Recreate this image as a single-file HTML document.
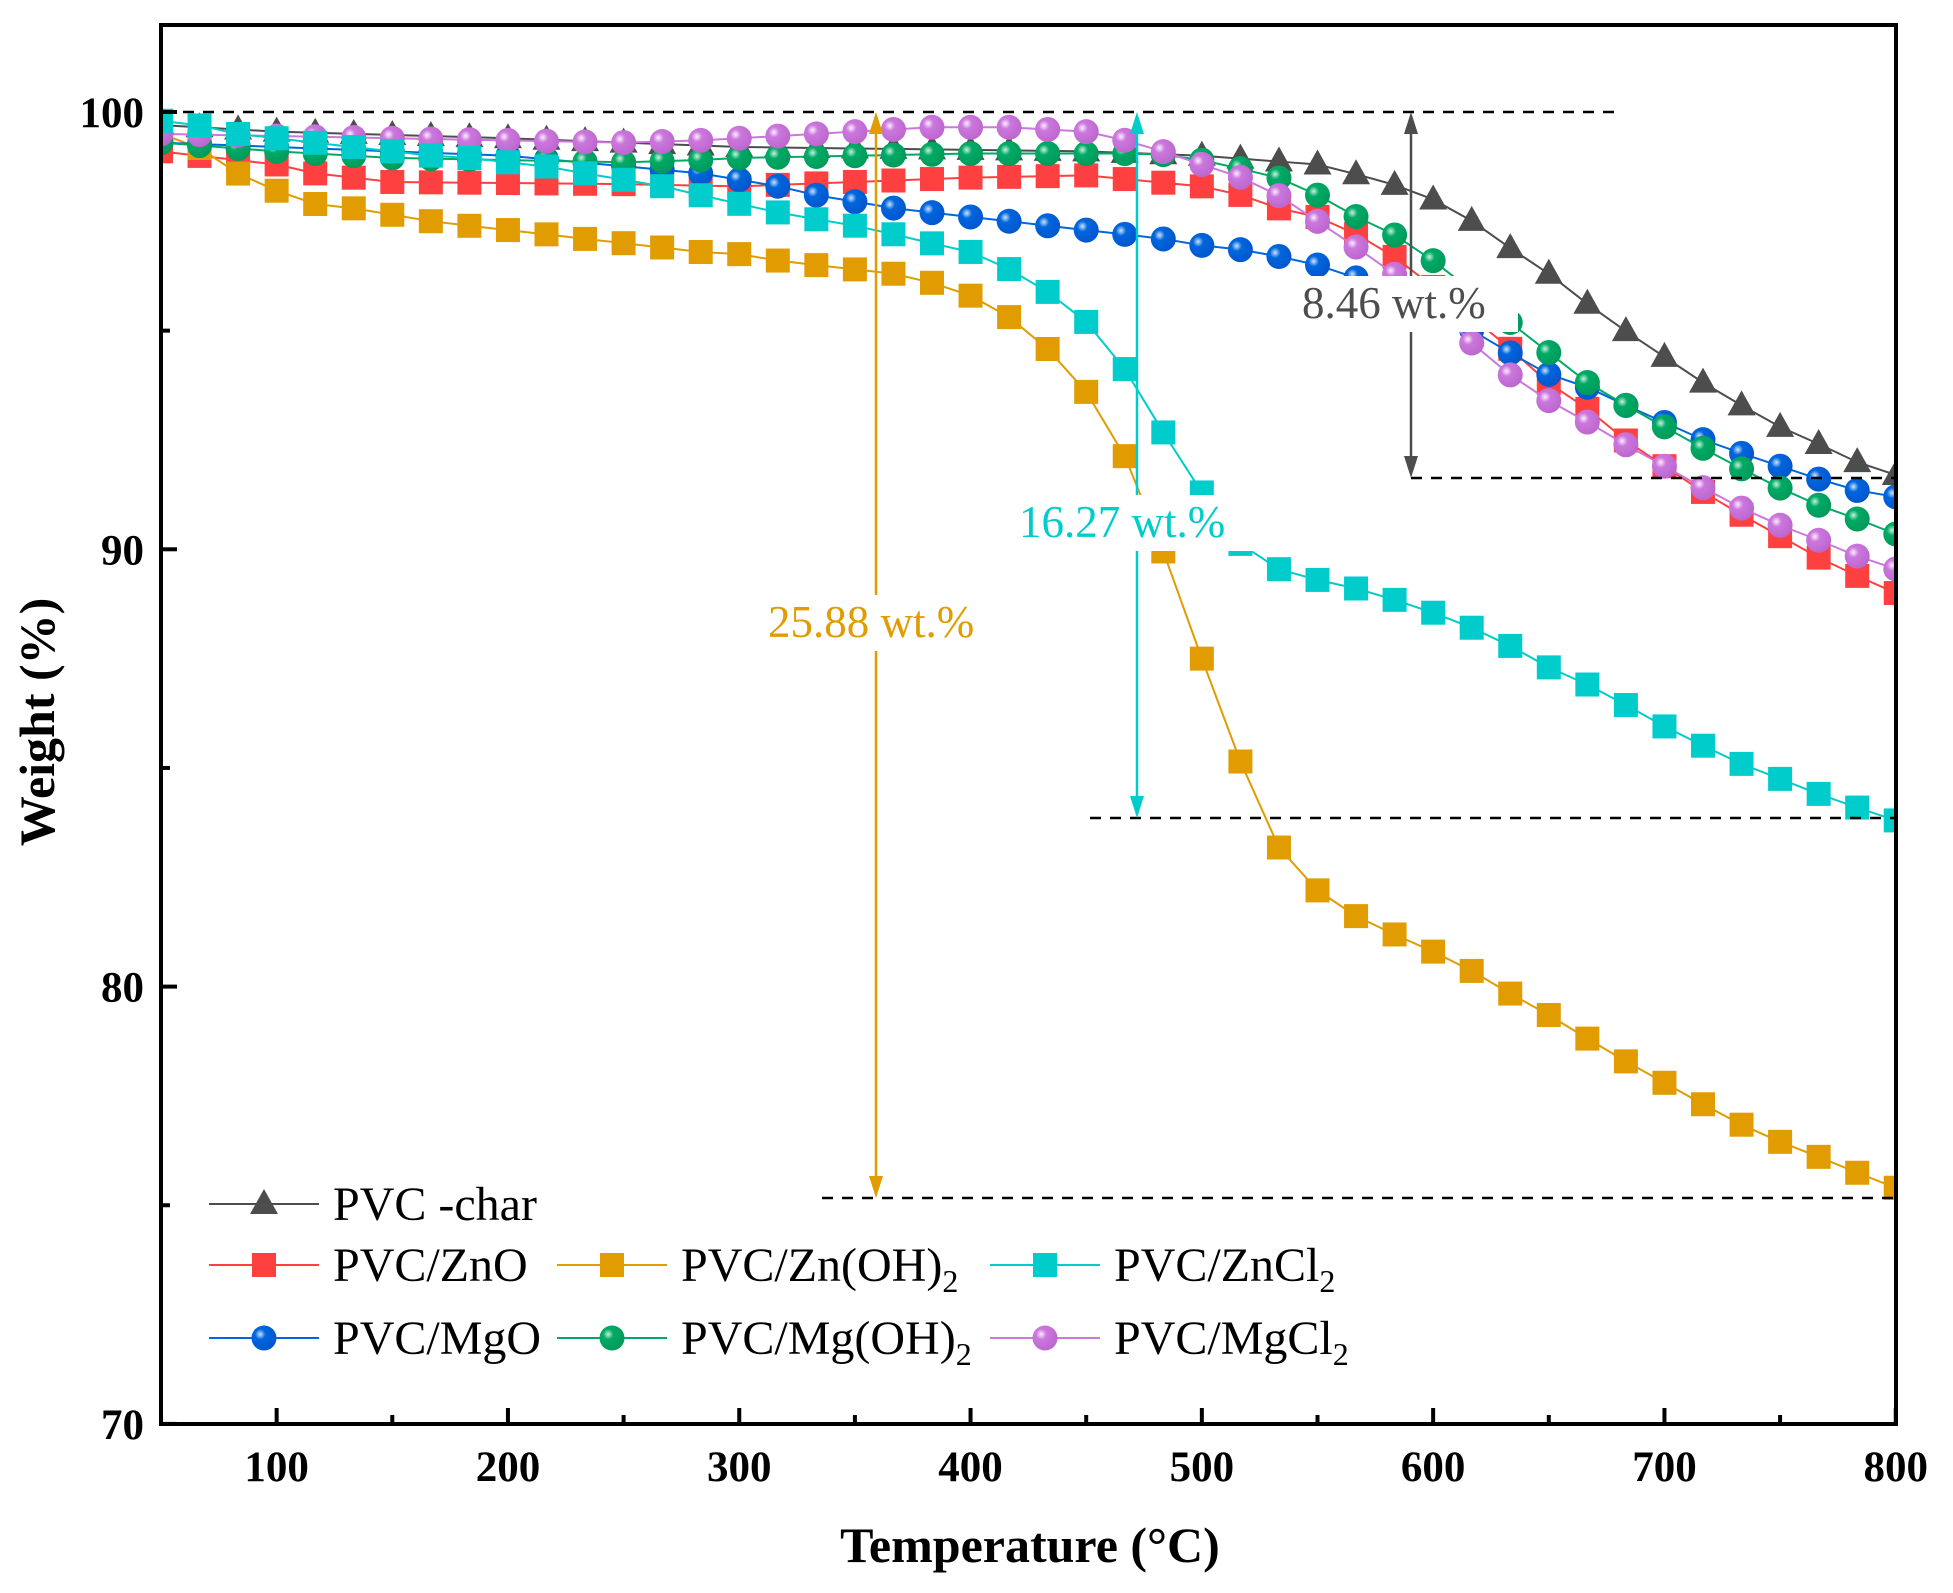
<!DOCTYPE html>
<html><head><meta charset="utf-8"><style>
html,body{margin:0;padding:0;background:#fff}
svg{display:block}
text{font-family:"Liberation Serif",serif}
</style></head><body>
<svg id="s" width="1953" height="1593" viewBox="0 0 1953 1593" xmlns="http://www.w3.org/2000/svg">
<defs>
<radialGradient id="gb" cx="0.35" cy="0.35" r="0.7"><stop offset="0" stop-color="#cfe3ff"/><stop offset="0.3" stop-color="#0066dd"/><stop offset="1" stop-color="#0055cc"/></radialGradient>
<radialGradient id="gg" cx="0.35" cy="0.35" r="0.7"><stop offset="0" stop-color="#c8f0dc"/><stop offset="0.3" stop-color="#00aa66"/><stop offset="1" stop-color="#009958"/></radialGradient>
<radialGradient id="gp" cx="0.35" cy="0.35" r="0.7"><stop offset="0" stop-color="#fbeeff"/><stop offset="0.3" stop-color="#cc77dd"/><stop offset="1" stop-color="#bb66cc"/></radialGradient>
</defs>
<g id="plot"></g>
<g id="ann"></g>
</svg>
<script>
const NS="http://www.w3.org/2000/svg";
const X=t=>161+(t-50)*2.313, Y=w=>112+(100-w)*43.73;
function el(p,tag,a,txt){const e=document.createElementNS(NS,tag);for(const k in a)e.setAttribute(k,a[k]);if(txt!==undefined)e.textContent=txt;p.appendChild(e);return e;}
const P=document.getElementById('plot'),A=document.getElementById('ann'),S=document.getElementById('s');
const data={
char:[[50,99.7],[100,99.55],[200,99.4],[300,99.2],[450,99.1],[500,99.0],[550,98.8],[580,98.4],[600,98.0],[617,97.5],[633,96.9],[650,96.3],[667,95.6],[683,95.0],[700,94.4],[717,93.8],[733,93.3],[750,92.8],[767,92.4],[783,92.0],[800,91.7]],
zno:[[50,99.1],[66,99.0],[83,98.9],[100,98.8],[116,98.6],[150,98.4],[250,98.35],[300,98.3],[350,98.4],[400,98.5],[450,98.55],[480,98.4],[500,98.3],[517,98.1],[533,97.8],[550,97.6],[567,97.2],[583,96.7],[600,96.0],[617,95.3],[633,94.6],[650,93.8],[667,93.2],[683,92.5],[700,91.9],[717,91.3],[733,90.8],[750,90.3],[767,89.8],[783,89.4],[800,89.0]],
znoh:[[50,99.5],[66,99.2],[83,98.6],[100,98.2],[116,97.9],[133,97.8],[150,97.65],[167,97.5],[183,97.4],[200,97.3],[217,97.2],[233,97.1],[250,97.0],[267,96.9],[283,96.8],[300,96.75],[317,96.6],[333,96.5],[350,96.4],[367,96.3],[383,96.1],[400,95.8],[417,95.3],[433,94.6],[450,93.6],[467,92.1],[483,90.0],[500,87.5],[517,85.1],[533,83.2],[550,82.2],[567,81.6],[583,81.2],[600,80.8],[617,80.35],[633,79.85],[650,79.35],[667,78.8],[683,78.3],[700,77.8],[717,77.3],[733,76.85],[750,76.45],[767,76.1],[783,75.75],[800,75.4]],
zncl:[[50,99.8],[66,99.7],[83,99.5],[100,99.4],[116,99.3],[133,99.2],[150,99.1],[167,99.0],[183,98.95],[200,98.85],[217,98.75],[233,98.6],[250,98.45],[267,98.3],[283,98.1],[300,97.9],[317,97.7],[333,97.55],[350,97.4],[367,97.2],[383,97.0],[400,96.8],[417,96.4],[433,95.9],[450,95.2],[467,94.1],[483,92.7],[500,91.3],[517,90.1],[533,89.55],[550,89.3],[567,89.1],[583,88.85],[600,88.55],[617,88.2],[633,87.8],[650,87.3],[667,86.9],[683,86.45],[700,85.95],[717,85.5],[733,85.1],[750,84.75],[767,84.4],[783,84.1],[800,83.8]],
mgo:[[50,99.3],[100,99.2],[200,99.0],[283,98.6],[317,98.3],[333,98.1],[350,97.95],[367,97.8],[383,97.7],[400,97.6],[417,97.5],[433,97.4],[450,97.3],[467,97.2],[483,97.1],[500,96.95],[517,96.85],[533,96.7],[550,96.5],[567,96.2],[583,95.9],[600,95.5],[617,95.0],[633,94.5],[650,94.0],[667,93.7],[683,93.3],[700,92.9],[717,92.5],[733,92.2],[750,91.9],[767,91.6],[783,91.35],[800,91.2]],
mgoh:[[50,99.3],[100,99.1],[150,98.95],[200,98.9],[250,98.85],[283,98.9],[300,98.95],[350,99.0],[400,99.05],[480,99.05],[500,98.9],[517,98.7],[533,98.5],[550,98.1],[567,97.6],[583,97.2],[600,96.6],[617,95.9],[633,95.2],[650,94.5],[667,93.8],[683,93.3],[700,92.8],[717,92.3],[733,91.85],[750,91.4],[767,91.0],[783,90.7],[800,90.35]],
mgcl:[[50,99.5],[100,99.45],[200,99.35],[250,99.3],[283,99.35],[317,99.45],[350,99.55],[383,99.65],[417,99.65],[450,99.55],[467,99.35],[483,99.1],[500,98.8],[517,98.5],[533,98.1],[550,97.5],[567,96.9],[583,96.3],[600,95.6],[617,94.7],[633,94.0],[650,93.4],[667,92.9],[683,92.4],[700,91.9],[717,91.4],[733,90.95],[750,90.55],[767,90.2],[783,89.85],[800,89.55]]};
function interp(d,t){for(let i=0;i<d.length-1;i++){if(t<=d[i+1][0]){const f=(t-d[i][0])/(d[i+1][0]-d[i][0]);return d[i][1]+f*(d[i+1][1]-d[i][1]);}}return d[d.length-1][1];}
const ser=[['char','#4d4d4d','tri'],['zno','#ff4040','sq'],['znoh','#e09c00','sq'],['mgo','#0066dd','ci','url(#gb)'],['mgoh','#00aa66','ci','url(#gg)'],['mgcl','#cc77dd','ci','url(#gp)'],['zncl','#00cccc','sq']];
function marker(p,type,x,y,c,f){
 if(type=='sq')el(p,'rect',{x:x-12,y:y-12,width:24,height:24,fill:c});
 else if(type=='ci')el(p,'circle',{cx:x,cy:y,r:12.5,fill:f});
 else el(p,'polygon',{points:`${x},${y-15} ${x+14},${y+10} ${x-14},${y+10}`,fill:c});
}
const temps=[];for(let k=0;k<=45;k++)temps.push(50+k*750/45);
ser.forEach(([k,c,t,f])=>{
 const g=el(P,'g',{});
 const pts=temps.map(T=>[X(T),Y(interp(data[k],T))]);
 el(g,'polyline',{points:pts.map(p=>p.join(',')).join(' '),fill:'none',stroke:c,'stroke-width':2});
 pts.forEach(p=>marker(g,t,p[0],p[1],c,f));
});
el(S,'rect',{x:0,y:0,width:159,height:1593,fill:'#fff'});
el(S,'rect',{x:1898,y:0,width:55,height:1593,fill:'#fff'});
function dash(x1,x2,y){el(A,'line',{x1,x2,y1:y,y2:y,stroke:'#000','stroke-width':2.5,'stroke-dasharray':'11,9'});}
dash(163,1616,112);dash(1411,1896,478);dash(1090,1896,818);dash(822,1896,1198);
function arrow(x,y1,y2,c){el(A,'line',{x1:x,x2:x,y1:y1+18,y2:y2-18,stroke:c,'stroke-width':2.5});
 el(A,'polygon',{points:`${x},${y1} ${x+7},${y1+22} ${x-7},${y1+22}`,fill:c});
 el(A,'polygon',{points:`${x},${y2} ${x+7},${y2-22} ${x-7},${y2-22}`,fill:c});}
arrow(1411,112,478,'#4d4d4d');arrow(1137,112,818,'#00cccc');arrow(876,112,1198,'#e09c00');
function lab(x,y,w,s,c){el(A,'rect',{x:x-6,y:y-42,width:w+12,height:56,fill:'#fff'});el(A,'text',{x:x,y:y,'font-size':45,fill:c},s);}
lab(1302,318,210,'8.46 wt.%','#4d4d4d');
lab(1019,537,232,'16.27 wt.%','#00cccc');
lab(768,637,232,'25.88 wt.%','#e09c00');
el(S,'rect',{x:161,y:25,width:1735,height:1399,fill:'none',stroke:'#000','stroke-width':4});
const ax=el(S,'g',{});
for(let t=100;t<=800;t+=50){const x=X(t);const maj=t%100==0;el(ax,'line',{x1:x,x2:x,y1:1424,y2:1424-(maj?16:9),stroke:'#000','stroke-width':4});
 if(maj)el(ax,'text',{x:x,y:1481,'font-size':43,'font-weight':'bold','text-anchor':'middle'},t);}
for(let w=70;w<=100;w+=5){const y=Y(w);const maj=w%10==0;el(ax,'line',{x1:161,x2:161+(maj?16:9),y1:y,y2:y,stroke:'#000','stroke-width':4});
 if(maj)el(ax,'text',{x:144,y:y+15,'font-size':43,'font-weight':'bold','text-anchor':'end'},w);}
el(ax,'text',{x:1030,y:1562,'font-size':50,'font-weight':'bold','text-anchor':'middle'},'Temperature (°C)');
el(ax,'text',{x:0,y:0,'font-size':50,'font-weight':'bold','text-anchor':'middle',transform:'translate(54,722) rotate(-90)'},'Weight (%)');
const L=[[209,1204,'#4d4d4d','tri',null,'PVC -char'],
[209,1265,'#ff4040','sq',null,'PVC/ZnO'],[557,1265,'#e09c00','sq',null,'PVC/Zn(OH)|2'],[990,1265,'#00cccc','sq',null,'PVC/ZnCl|2'],
[209,1338,'#0066dd','ci','url(#gb)','PVC/MgO'],[557,1338,'#00aa66','ci','url(#gg)','PVC/Mg(OH)|2'],[990,1338,'#cc77dd','ci','url(#gp)','PVC/MgCl|2']];
L.forEach(([x,y,c,t,f,s])=>{el(S,'line',{x1:x,x2:x+110,y1:y,y2:y,stroke:c,'stroke-width':2});marker(S,t,x+55,y,c,f);
 const tx=el(S,'text',{x:x+124,y:y+16,'font-size':48});const [a,b]=s.split('|');tx.appendChild(document.createTextNode(a));
 if(b){el(tx,'tspan',{'font-size':32,dy:11},b);}});
</script>
</body></html>
